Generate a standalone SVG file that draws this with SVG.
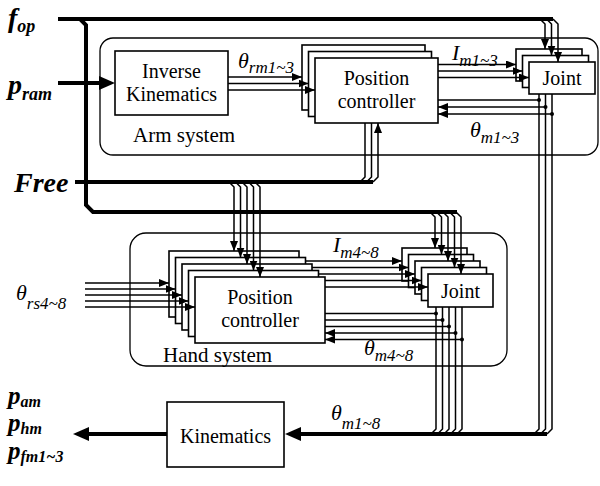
<svg xmlns="http://www.w3.org/2000/svg" width="600" height="486" viewBox="0 0 600 486" font-family="'Liberation Serif', 'Times New Roman', 'DejaVu Serif', serif">
<defs>
<style>
.box{fill:#fff;stroke:#000;stroke-width:1.6}
.sys{fill:none;stroke:#000;stroke-width:1.3}
.thick{fill:none;stroke:#000;stroke-width:4}
.thin{fill:none;stroke:#000;stroke-width:1.5}
.nt{font-size:20px;text-anchor:middle}
.st{font-size:21px}
.sym{font-size:22px;font-style:italic}
.sub{font-size:17px;font-style:italic}
.big{font-size:28px;font-style:italic;font-weight:bold}
.bp{font-size:25px;font-style:italic;font-weight:bold}
.bsub{font-size:18px;font-style:italic}
.psub{font-size:16px;font-style:italic}
</style>
<marker id="ah" viewBox="0 0 10 8" refX="10" refY="4" markerWidth="10" markerHeight="8" markerUnits="userSpaceOnUse" orient="auto"><path d="M0,0 L10,4 L0,8 Z"/></marker>
<marker id="bh" viewBox="0 0 16 14" refX="2" refY="7" markerWidth="16" markerHeight="14" markerUnits="userSpaceOnUse" orient="auto"><path d="M0,0 L16,7 L0,14 Z"/></marker>
</defs>
<rect width="600" height="486" fill="#fff"/>

<g id="arm-system"><rect class="sys" x="100" y="38" width="498" height="117" rx="13"/><text class="st" x="133" y="142">Arm system</text></g>
<g id="hand-system"><rect class="sys" x="130" y="233" width="377" height="133" rx="16"/><text class="st" x="163" y="362">Hand system</text></g>

<g id="inverse-kinematics"><rect class="box" x="115" y="51" width="113" height="64"/><text class="nt" x="171.5" y="78">Inverse</text><text class="nt" x="171.5" y="101">Kinematics</text></g>

<g id="arm-position-controller">
<rect class="box" x="302" y="45" width="123" height="65"/>
<rect class="box" x="308.5" y="51.5" width="123" height="65"/>
<rect class="box" x="315" y="58" width="123" height="65"/>
<text class="nt" x="376.5" y="85">Position</text><text class="nt" x="376.5" y="108">controller</text>
</g>

<g id="arm-joint">
<rect class="box" x="516" y="49" width="66" height="32"/>
<rect class="box" x="522.5" y="55.5" width="66" height="32"/>
<rect class="box" x="529" y="62" width="66" height="32"/>
<text class="nt" x="562" y="85">Joint</text>
</g>

<g id="hand-position-controller">
<rect class="box" x="169" y="251" width="130" height="66"/>
<rect class="box" x="175.5" y="257.5" width="130" height="66"/>
<rect class="box" x="182" y="264" width="130" height="66"/>
<rect class="box" x="188.5" y="270.5" width="130" height="66"/>
<rect class="box" x="195" y="277" width="130" height="66"/>
<text class="nt" x="260" y="304">Position</text><text class="nt" x="260" y="327">controller</text>
</g>

<g id="hand-joint">
<rect class="box" x="402" y="248" width="65" height="33"/>
<rect class="box" x="408.5" y="254.5" width="65" height="33"/>
<rect class="box" x="415" y="261" width="65" height="33"/>
<rect class="box" x="421.5" y="267.5" width="65" height="33"/>
<rect class="box" x="428" y="274" width="65" height="33"/>
<text class="nt" x="460.5" y="298">Joint</text>
</g>

<g id="kinematics"><rect class="box" x="167" y="402" width="117" height="65"/><text class="nt" x="225.5" y="443">Kinematics</text></g>

<g id="connectors">
<path class="thick" d="M58,19 H553"/>
<path class="thick" d="M80,19 L86,25 V205 L93,212 H457"/>
<path class="thick" d="M58,83 H101" marker-end="url(#bh)"/>
<path class="thick" d="M75,182 H373"/>
<path class="thick" d="M547,434 H299" marker-end="url(#bh)"/>
<path class="thick" d="M167,434 H87" marker-end="url(#bh)"/>

<path class="thin" d="M228,77 H302" marker-end="url(#ah)"/>
<path class="thin" d="M228,83.5 H308.5" marker-end="url(#ah)"/>
<path class="thin" d="M228,90 H315" marker-end="url(#ah)"/>

<path class="thin" d="M438,64.5 H516" marker-end="url(#ah)"/>
<path class="thin" d="M438,71 H522.5" marker-end="url(#ah)"/>
<path class="thin" d="M438,77.5 H529" marker-end="url(#ah)"/>

<path class="thin" d="M540,19 L545,24 V49" marker-end="url(#ah)"/>
<path class="thin" d="M546.5,19 L551.5,24 V55.5" marker-end="url(#ah)"/>
<path class="thin" d="M553,19 L558,24 V62" marker-end="url(#ah)"/>

<path class="thin" d="M360,182 L365,177 V123"/>
<path class="thin" d="M366.5,182 L371.5,177 V123"/>
<path class="thin" d="M373,182 L378,177 V123" marker-end="url(#ah)"/>

<path class="thin" d="M539,94 V429 L534,434"/>
<path class="thin" d="M545.5,94 V429 L540.5,434"/>
<path class="thin" d="M552,94 V429 L547,434"/>
<path class="thin" d="M539,100 H438"/>
<path class="thin" d="M545.5,107 H438" marker-end="url(#ah)"/>
<path class="thin" d="M552,114 H438" marker-end="url(#ah)"/>

<path class="thin" d="M229,182 L234,187 V251" marker-end="url(#ah)"/>
<path class="thin" d="M235.5,182 L240.5,187 V257.5" marker-end="url(#ah)"/>
<path class="thin" d="M242,182 L247,187 V264" marker-end="url(#ah)"/>
<path class="thin" d="M248.5,182 L253.5,187 V270.5" marker-end="url(#ah)"/>
<path class="thin" d="M255,182 L260,187 V277" marker-end="url(#ah)"/>

<path class="thin" d="M85,283 H169" marker-end="url(#ah)"/>
<path class="thin" d="M85,289 H175.5" marker-end="url(#ah)"/>
<path class="thin" d="M85,295 H182" marker-end="url(#ah)"/>
<path class="thin" d="M85,301 H188.5" marker-end="url(#ah)"/>
<path class="thin" d="M85,307 H195" marker-end="url(#ah)"/>

<path class="thin" d="M305.5,261 H402" marker-end="url(#ah)"/>
<path class="thin" d="M312,267.5 H408.5" marker-end="url(#ah)"/>
<path class="thin" d="M318.5,274 H415" marker-end="url(#ah)"/>
<path class="thin" d="M325,280.5 H421.5" marker-end="url(#ah)"/>
<path class="thin" d="M325,287 H428" marker-end="url(#ah)"/>

<path class="thin" d="M430,212 L435,217 V248" marker-end="url(#ah)"/>
<path class="thin" d="M436.5,212 L441.5,217 V254.5" marker-end="url(#ah)"/>
<path class="thin" d="M443,212 L448,217 V261" marker-end="url(#ah)"/>
<path class="thin" d="M449.5,212 L454.5,217 V267.5" marker-end="url(#ah)"/>
<path class="thin" d="M456,212 L461,217 V274" marker-end="url(#ah)"/>

<path class="thin" d="M436,307 V429 L431,434"/>
<path class="thin" d="M442.5,307 V429 L437.5,434"/>
<path class="thin" d="M449,307 V429 L444,434"/>
<path class="thin" d="M455.5,307 V429 L450.5,434"/>
<path class="thin" d="M462,307 V429 L457,434"/>
<path class="thin" d="M436,313.5 H325"/>
<path class="thin" d="M442.5,320 H325"/>
<path class="thin" d="M449,326.5 H325"/>
<path class="thin" d="M455.5,333 H325" marker-end="url(#ah)"/>
<path class="thin" d="M462,339.5 H325" marker-end="url(#ah)"/>

<g fill="#000">
<circle cx="539" cy="100" r="2"/><circle cx="545.5" cy="107" r="2"/><circle cx="552" cy="114" r="2"/>
<circle cx="436" cy="313.5" r="2"/><circle cx="442.5" cy="320" r="2"/><circle cx="449" cy="326.5" r="2"/><circle cx="455.5" cy="333" r="2"/><circle cx="462" cy="339.5" r="2"/>
</g>
</g>

<g id="labels">
<text class="big" x="8" y="27">f<tspan class="bsub" dy="5">op</tspan></text>
<text class="big" x="8" y="94">p<tspan class="bsub" dy="6">ram</tspan></text>
<text class="big" x="14" y="192">Free</text>
<text class="sym" x="238" y="68">θ<tspan class="sub" dy="5">rm1~3</tspan></text>
<text class="sym" x="452" y="60">I<tspan class="sub" dy="6">m1~3</tspan></text>
<text class="sym" x="470" y="137">θ<tspan class="sub" dy="6">m1~3</tspan></text>
<text class="sym" x="333" y="252">I<tspan class="sub" dy="6">m4~8</tspan></text>
<text class="sym" x="364" y="355">θ<tspan class="sub" dy="6">m4~8</tspan></text>
<text class="sym" x="16" y="300">θ<tspan class="sub" dy="9">rs4~8</tspan></text>
<text class="sym" x="331" y="420">θ<tspan class="sub" dy="9">m1~8</tspan></text>
<text class="bp" x="8" y="404">p<tspan class="psub" dy="3">am</tspan></text>
<text class="bp" x="8" y="431">p<tspan class="psub" dy="3">hm</tspan></text>
<text class="bp" x="8" y="459">p<tspan class="psub" dy="3">fm1~3</tspan></text>
</g>
</svg>
